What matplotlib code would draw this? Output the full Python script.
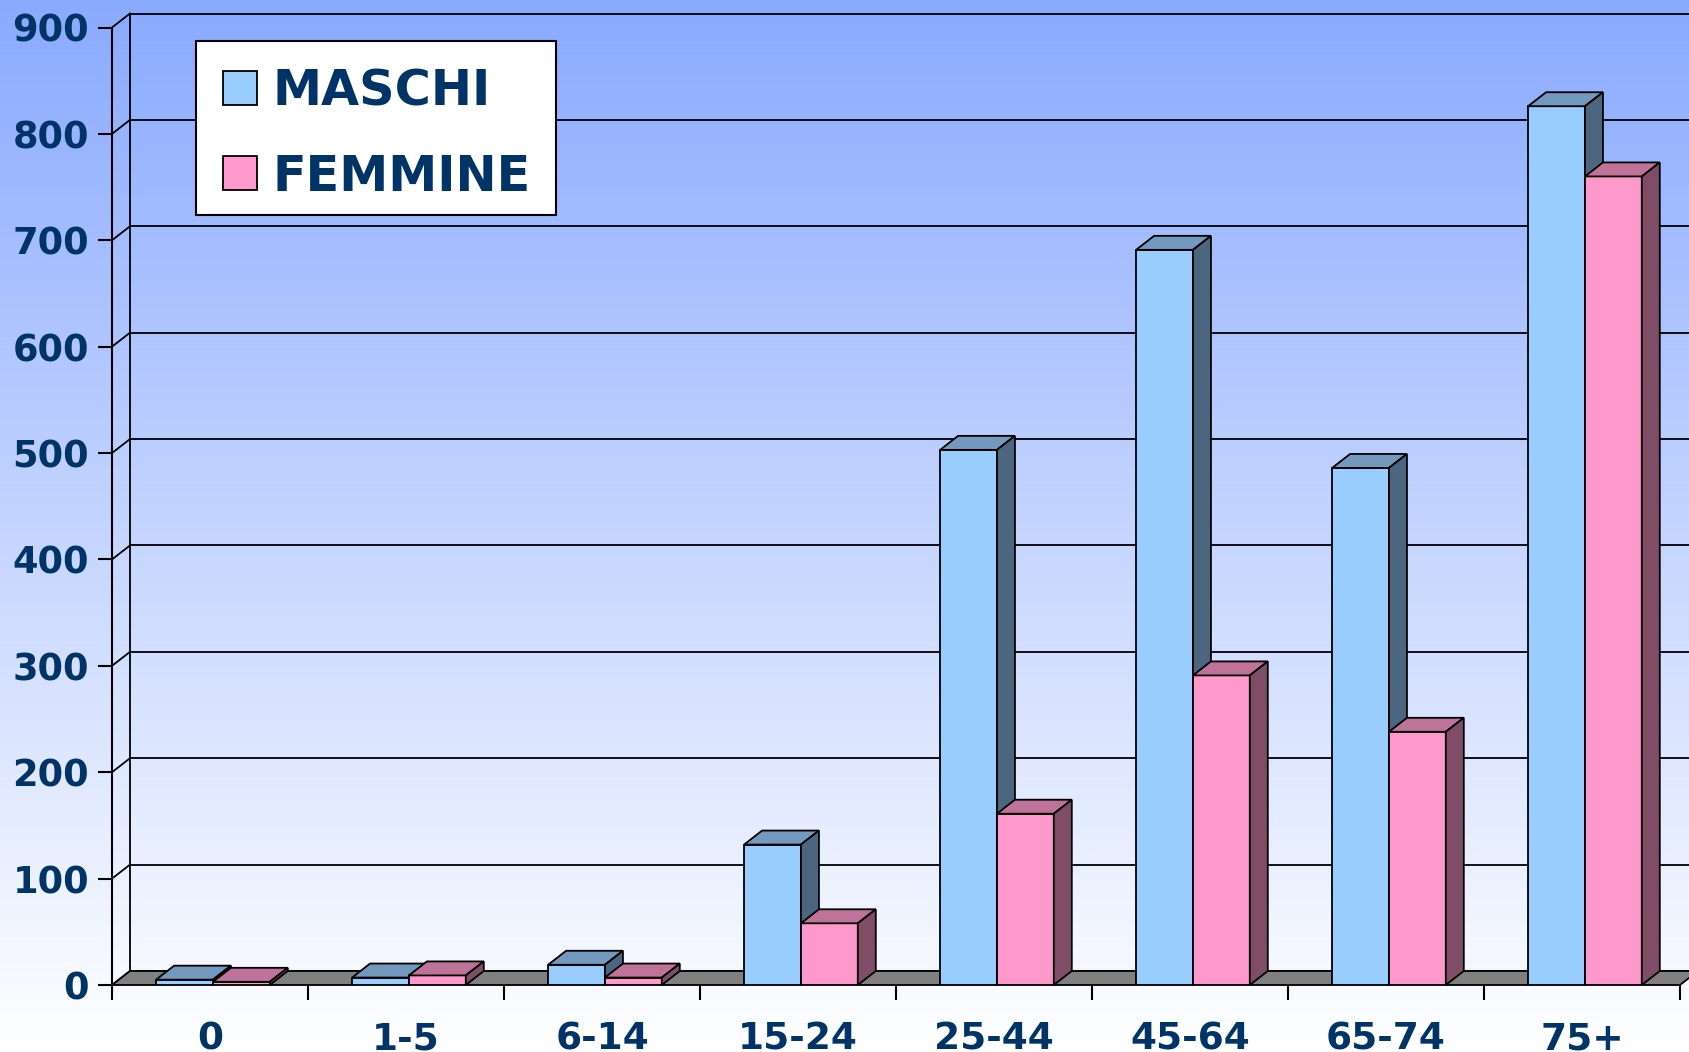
import matplotlib.pyplot as plt
import numpy as np
from matplotlib.lines import Line2D
from matplotlib.patches import Rectangle

categorie = ["0", "1-5", "6-14", "15-24", "25-44", "45-64", "65-74", "75+"]
maschi = [5, 7, 19, 132, 503, 691, 486, 826]
femmine = [3, 9, 7, 58, 161, 291, 238, 760]
yticks = [0, 100, 200, 300, 400, 500, 600, 700, 800, 900]

navy = "#003366"
blu = ["#99CCFF", "#7399BF", "#4D6680"]   # fronte, sopra, lato
rosa = ["#FF99CC", "#BF7399", "#804D66"]

W, H = 1689, 1052
fig = plt.figure(figsize=(W / 100, H / 100), dpi=100)

# sfondo sfumato
bg = fig.add_axes([0, 0, 1, 1], zorder=-1)
top = np.array([138, 170, 255]) / 255
bot = np.array([255, 255, 255]) / 255
t = np.linspace(0, 1, 256)[:, None]
grad = top * (1 - t) + bot * t
bg.imshow(grad[:, None, :], aspect="auto", extent=[0, 1, 0, 1])
bg.axis("off")

x0, y0, ytop = 112, 985, 27.5
ax = fig.add_axes([x0 / W, (H - y0) / H, (W - x0) / W, (y0 - ytop) / H])
ax.set_facecolor("none")
n = len(categorie)
cat_px = 196
ax.set_xlim(0, (W - x0) / cat_px)
ax.set_ylim(0, 900)

dx = 18 / cat_px
dy = 14 / ((y0 - ytop) / 900)
lw = 1.3

# pareti: griglia
for v in yticks:
    ax.plot([dx, n + dx], [v + dy, v + dy], color="black", lw=lw, zorder=1, clip_on=False)
    ax.plot([0, dx], [v, v + dy], color="black", lw=lw, zorder=1, clip_on=False)
ax.plot([dx, dx], [dy, 900 + dy], color="black", lw=lw, zorder=1, clip_on=False)

# pavimento
ax.fill([0, n, n + dx, dx], [0, 0, dy, dy], facecolor="#808080", edgecolor="black",
        lw=lw, zorder=2, clip_on=False)

bw = 0.29
def barre(off, vals, cols):
    xs = np.arange(n) + off
    ax.bar(xs, vals, width=bw, align="edge", color=cols[0], edgecolor="black", lw=lw, zorder=3)
    for x, v in zip(xs, vals):
        ax.fill([x, x + bw, x + bw + dx, x + dx], [v, v, v + dy, v + dy],
                facecolor=cols[1], edgecolor="black", lw=lw, zorder=3, clip_on=False)
        ax.fill([x + bw, x + bw + dx, x + bw + dx, x + bw], [0, dy, v + dy, v],
                facecolor=cols[2], edgecolor="black", lw=lw, zorder=3, clip_on=False)

barre(0.225, maschi, blu)
barre(0.515, femmine, rosa)

for s in ["top", "right", "bottom"]:
    ax.spines[s].set_visible(False)
ax.spines["left"].set_linewidth(1.5)
ax.spines["left"].set_zorder(4)

ax.set_yticks(yticks)
ax.tick_params(axis="y", length=10, width=1.5, pad=6.5, labelsize=26.5, labelcolor=navy)
ax.set_xticks(np.arange(n + 1))
ax.set_xticklabels([])
ax.set_xticks(np.arange(n) + 0.5, minor=True)
ax.set_xticklabels(categorie, minor=True)
ax.tick_params(axis="x", which="major", length=11, width=1.5)
ax.tick_params(axis="x", which="minor", length=0, pad=26, labelsize=27, labelcolor=navy)
for lab in ax.get_yticklabels() + ax.get_xticklabels(minor=True):
    lab.set_fontweight("bold")

# riquadro legenda
ax.add_patch(Rectangle((196 / W, 1 - 215 / H), 360 / W, 174 / H, transform=fig.transFigure,
                       facecolor="white", edgecolor="black", lw=1.5, zorder=4.5, clip_on=False))

handles = [Line2D([], [], ls="none", marker="s", markersize=24, markerfacecolor=blu[0],
                  markeredgecolor="black", markeredgewidth=lw, label="MASCHI"),
           Line2D([], [], ls="none", marker="s", markersize=24, markerfacecolor=rosa[0],
                  markeredgecolor="black", markeredgewidth=lw, label="FEMMINE")]
leg = ax.legend(handles=handles, loc="upper left",
                bbox_to_anchor=(196 / W, 1 - 48 / H), bbox_transform=fig.transFigure,
                prop={"weight": "bold", "size": 35.5}, labelcolor=navy, frameon=False,
                handlelength=1.0, handleheight=0.7, handletextpad=0.16,
                borderpad=0.4, labelspacing=0.75, borderaxespad=0)
leg.set_zorder(5)

fig.savefig("out.png", dpi=100)
